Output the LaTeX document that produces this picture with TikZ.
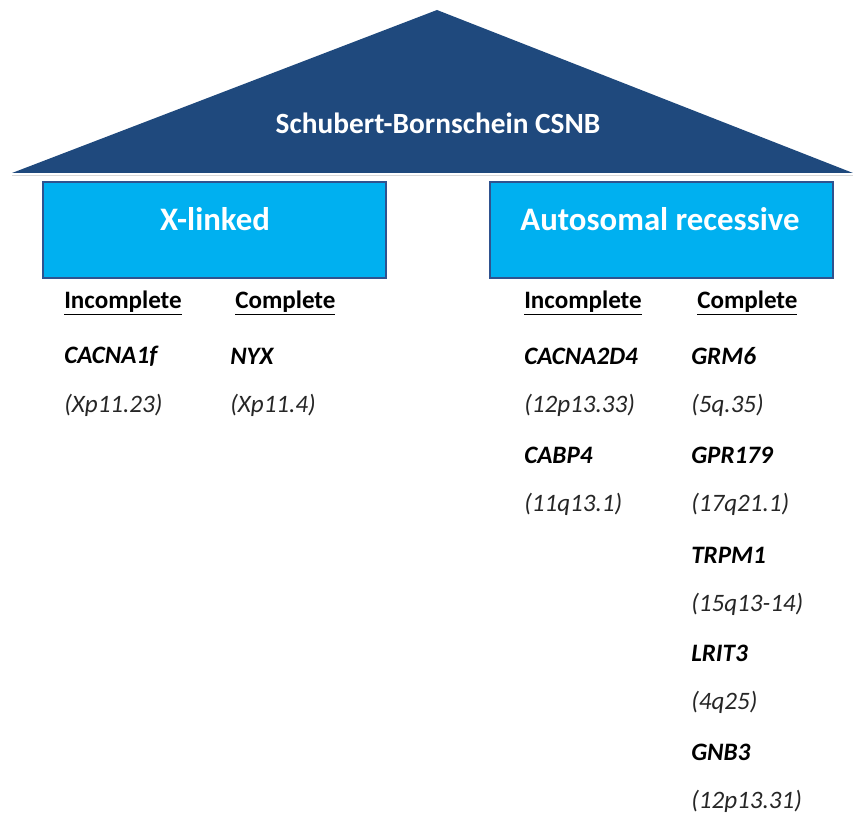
\documentclass[tikz,border=0pt]{standalone}
\usepackage{fontspec}
\setmainfont{Carlito}
\usepackage{xcolor}

\begin{document}
\begin{tikzpicture}[x=0.75pt,y=-0.75pt,
  branch/.style={draw=boxline,line width=1.6pt,fill=boxfill,anchor=north west,minimum width=257pt,minimum height=72pt,inner sep=0pt},
  branchtext/.style={text=white,font=\fontsize{24.6}{28}\selectfont\bfseries},
  head/.style={anchor=west,inner sep=0pt,font=\fontsize{18.8}{22}\selectfont\bfseries},
  gene/.style={anchor=west,inner sep=0pt,font=\fontsize{18.8}{22}\selectfont\bfseries\itshape},
  locus/.style={anchor=west,inner sep=0pt,text=black!85,font=\fontsize{18.8}{22}\selectfont\itshape}]
\definecolor{roof}{HTML}{1F497D}
\definecolor{boxfill}{HTML}{00B0F0}
\definecolor{boxline}{HTML}{2F528F}
\useasboundingbox (0,0) rectangle (853,813);
% roof
\coordinate (apex) at (437,10);
\coordinate (eaveL) at (12,173);
\coordinate (eaveR) at (853,173);
\draw[black!15,line width=1.2pt] ([yshift=-2pt]eaveL) -- ([yshift=-2pt]eaveR);
\fill[roof] (eaveL) -- (apex) -- (eaveR) -- cycle;
\node[text=white,font=\fontsize{22}{26}\selectfont\bfseries] (csnb) at (438,123) {Schubert-Bornschein CSNB};
% the two branches
\node[branch] (xbox) at (42,181) {};
\node[branch] (arbox) at (489,181) {};
\node[branchtext] (xl) at (215,219) {X-linked};
\node[branchtext] (ar) at (660,219) {Autosomal recessive};
% X-linked
\node[head] (xinc) at (64,303) {\underline{Incomplete}};
\node[head] (xcom) at (235,303) {\underline{Complete}};
\node[gene] (cacna1f) at (64,356) {CACNA1f};
\node[locus] (cacna1fl) at (64,405) {(Xp11.23)};
\node[gene] (nyx) at (230,356) {NYX};
\node[locus] (nyxl) at (230,405) {(Xp11.4)};
% autosomal recessive
\node[head] (arinc) at (524,303) {\underline{Incomplete}};
\node[head] (arcom) at (697,303) {\underline{Complete}};
\foreach \gname/\gloc/\gy [count=\i] in {CACNA2D4/12p13.33/356,CABP4/11q13.1/455}
  {\node[gene] (ari\i) at (524,\gy) {\gname};
   \node[locus] (aril\i) at (524,\gy+49) {(\gloc)};}
\foreach \gname/\gloc/\gy [count=\i] in {GRM6/5q.35/356,GPR179/17q21.1/455,TRPM1/15q13-14/555,LRIT3/4q25/653,GNB3/12p13.31/752}
  {\node[gene] (arc\i) at (691,\gy) {\gname};
   \node[locus] (arcl\i) at (691,\gy+49) {(\gloc)};}
\end{tikzpicture}
\end{document}
